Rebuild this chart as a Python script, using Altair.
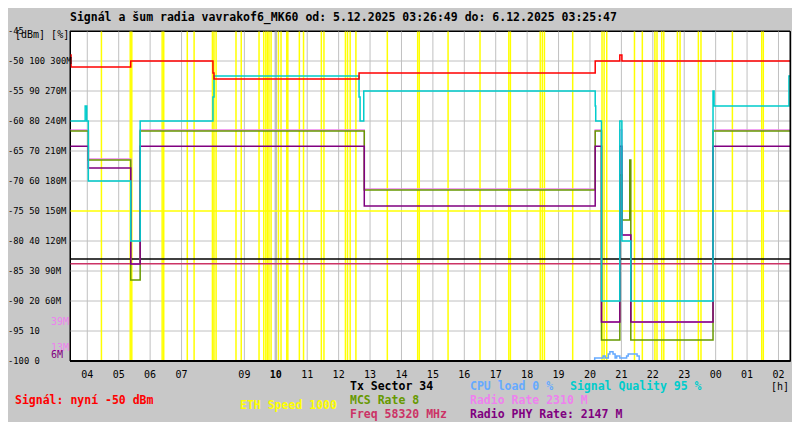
import altair as alt
import pandas as pd

FONT = "DejaVu Sans Mono"

def tmin(s):
    """'HH:MM' -> minutes from 5.12. 00:00 (times before 03:00 belong to 6.12.)"""
    h, m = map(int, s.split(":"))
    v = h * 60 + m
    if v < 180:
        v += 1440
    return v

T_START, T_END = "03:27", "02:22"

# ---------------- data ----------------
title_text = "Signál a šum radia vavrakof6_MK60 od: 5.12.2025 03:26:49 do: 6.12.2025 03:25:47"

# signal (dBm)
sig_t = ["03:27", "03:29", "05:23", "08:00", "08:02", "12:39", "20:10", "20:57", "21:01"]
sig_v = [-49, -51, -50, -52, -53, -52, -50, -49, -50]

# signal quality (%)
q_t = ["03:27", "03:56", "03:59", "04:02", "05:23", "05:41", "08:00", "08:02", "12:39", "12:41",
       "12:48", "20:10", "20:11", "20:22", "20:57", "21:01", "21:18", "23:55", "23:57", "02:20"]
q_v = [80, 85, 80, 60, 40, 80, 88, 95, 88, 80, 90, 85, 80, 20, 80, 40, 20, 90, 85, 95]

# MCS rate (in rate-axis units, M)
mcs_t = ["03:27", "04:02", "05:23", "05:41", "12:49", "20:10", "20:22", "20:57", "21:01", "21:16", "21:18", "23:55"]
mcs_v = [230, 201, 81, 230, 171, 230, 21, 186, 141, 201, 21, 230]

# radio rate (rate-axis units, M)
rr_t = ["03:27", "04:02", "05:23", "05:41", "12:49", "20:10", "20:22", "20:57", "21:01", "21:18", "23:55"]
rr_v = [231, 202, 97, 231, 172, 231, 39, 231, 126, 39, 231]

# radio PHY rate (rate-axis units, M)
phy_t = ["03:27", "04:02", "05:23", "05:41", "12:49", "20:10", "20:22", "20:57", "21:01", "21:18", "23:55"]
phy_v = [214.7, 193, 97, 214.7, 155, 214.7, 39, 214.7, 126, 39, 214.7]

# CPU load (%)
cpu_t = ["03:27", "20:09", "20:25", "20:29", "20:35", "20:38", "20:44", "20:48", "20:51", "20:57",
         "21:10", "21:13", "21:30", "21:34"]
cpu_v = [0, 1, 1.7, 1, 2.3, 3.1, 2.3, 1, 1.7, 1, 1.7, 2.3, 1.7, 0]

tx_sector_pct = 34          # Tx Sector 34 (on % scale)
freq_rate_units = 97.2      # Freq 58320 MHz level (rate-axis units)

# ETH speed events (yellow markers)
eth_t = ["04:27", "05:22", "05:25", "06:23", "06:26", "07:11", "07:24", "07:59", "08:02", "08:06",
         "08:44", "08:54", "09:28", "09:37", "09:41", "09:44", "09:47", "09:51", "10:05", "10:10",
         "10:21", "10:23", "10:45", "10:53", "11:27", "11:32", "12:13", "12:17", "12:22", "12:33",
         "13:33", "14:31", "14:34", "15:29", "16:30", "17:25", "17:28", "18:25", "18:29", "18:33",
         "19:27", "20:23", "20:27", "20:32", "21:25", "21:40", "22:04", "22:08", "22:17", "22:21",
         "22:47", "22:52", "23:27", "23:32", "00:32", "01:28", "01:31"]

grid_hours = ["04", "05", "06", "07", "08", "09", "10", "11", "12", "13", "14", "15", "16",
              "17", "18", "19", "20", "21", "22", "23", "00", "01", "02"]
x_tick_labels = ["04", "05", "06", "07", "09", "10", "11", "12", "13", "14", "15", "16",
                 "17", "18", "19", "20", "21", "22", "23", "00", "01", "02"]
x_bold_label = "10"

y_tick_vals = [-45, -50, -55, -60, -65, -70, -75, -80, -85, -90, -95, -100]
y_tick_labels = ["\u00a0-45", "-50 100 300M", "-55 90 270M", "-60 80 240M", "-65 70 210M",
                 "-70 60 180M", "-75 50 150M", "-80 40 120M", "-85 30 90M", "-90 20 60M",
                 "-95 10", "-100 0"]
grid_y = [-95, -90, -85, -80, -70, -65, -60, -55, -50]

ann_rates = [39, 13, 6]
ann_labels = ["39M", "13M", "6M"]

# ---------------- helpers ----------------
def pct(p):
    return -100 + p / 2.0

def rate(r):
    return -100 + r / 6.0

xs = alt.Scale(domain=[tmin(T_START), tmin(T_END)], nice=False, zero=False)
ys = alt.Scale(domain=[-100, -45], nice=False, zero=False)

def series_df(ts, vs, conv):
    t = [tmin(s) for s in ts] + [tmin(T_END)]
    v = [conv(x) for x in vs] + [conv(vs[-1])]
    return pd.DataFrame({"t": t, "v": v})

def step_line(ts, vs, conv, color, w=1.5):
    return alt.Chart(series_df(ts, vs, conv)).mark_line(
        interpolate="step-after", color=color, strokeWidth=w
    ).encode(x=alt.X("t:Q", scale=xs, axis=None), y=alt.Y("v:Q", scale=ys, axis=None))

def txt(s, x, y, color, size=11.5, weight="bold"):
    return alt.Chart(pd.DataFrame({"s": [s]})).mark_text(
        align="left", baseline="middle", font=FONT, fontSize=size, fontWeight=weight, color=color
    ).encode(text="s:N", x=alt.value(x), y=alt.value(y))

ident = lambda x: x

# ---------------- layers ----------------
grid_v = alt.Chart(pd.DataFrame({"t": [tmin(h + ":00") for h in grid_hours]})).mark_rule(
    color="#C0C0C0"
).encode(
    x=alt.X("t:Q", scale=xs, axis=None),
    strokeWidth=alt.condition("datum.t == 600", alt.value(2.5), alt.value(1)),
)

grid_h = alt.Chart(pd.DataFrame({"v": grid_y})).mark_rule(color="#C0C0C0", strokeWidth=1).encode(
    y=alt.Y("v:Q", scale=ys, axis=None)
)

eth = alt.Chart(pd.DataFrame({"t": [tmin(s) for s in eth_t]})).mark_rule(
    color="#FFFF00", strokeWidth=1.5
).encode(x=alt.X("t:Q", scale=xs, axis=None))

yel_h = alt.Chart(pd.DataFrame({"v": [-75]})).mark_rule(color="#FFFF00", strokeWidth=1.5).encode(
    y=alt.Y("v:Q", scale=ys, axis=None)
)

tx_line = alt.Chart(pd.DataFrame({"v": [pct(tx_sector_pct)]})).mark_rule(color="black", strokeWidth=1.5).encode(
    y=alt.Y("v:Q", scale=ys, axis=None)
)
freq_line = alt.Chart(pd.DataFrame({"v": [rate(freq_rate_units)]})).mark_rule(color="#CC3366", strokeWidth=1.5).encode(
    y=alt.Y("v:Q", scale=ys, axis=None)
)

cpu = step_line(cpu_t, cpu_v, pct, "#66AAFF")
violet = step_line(rr_t, rr_v, rate, "#EE82EE")
olive = step_line(mcs_t, mcs_v, rate, "#669900")
purple = step_line(phy_t, phy_v, rate, "#800080")
cyan = step_line(q_t, q_v, pct, "#00CCCC")
red = step_line(sig_t, sig_v, ident, "#FF0000")

frame_h = alt.Chart(pd.DataFrame({"v": [-100]})).mark_rule(color="black", strokeWidth=2).encode(
    y=alt.Y("v:Q", scale=ys, axis=None)
)
frame_top = alt.Chart(pd.DataFrame({"v": [-45]})).mark_rule(color="black", strokeWidth=1).encode(
    y=alt.Y("v:Q", scale=ys, axis=None)
)
frame_v = alt.Chart(pd.DataFrame({"t": [tmin(T_START), tmin(T_END)]})).mark_rule(color="black", strokeWidth=1).encode(
    x=alt.X("t:Q", scale=xs, axis=None)
)

# x tick labels (hours)
xlab_df = pd.DataFrame({"t": [tmin(h + ":00") for h in x_tick_labels], "s": x_tick_labels})
xlabels = alt.Chart(xlab_df).transform_filter(
    alt.datum.s != x_bold_label
).mark_text(
    align="center", baseline="middle", font=FONT, fontSize=10, color="black"
).encode(x=alt.X("t:Q", scale=xs, axis=None), y=alt.value(344), text="s:N")
xlabel_bold = alt.Chart(xlab_df).transform_filter(
    alt.datum.s == x_bold_label
).mark_text(
    align="center", baseline="middle", font=FONT, fontSize=10, fontWeight="bold", color="black"
).encode(x=alt.X("t:Q", scale=xs, axis=None), y=alt.value(344), text="s:N")

ylabels = alt.Chart(pd.DataFrame({"v": y_tick_vals, "s": y_tick_labels})).mark_text(
    align="left", baseline="middle", font=FONT, fontSize=8.8, color="black"
).encode(x=alt.value(-62), y=alt.Y("v:Q", scale=ys, axis=None), text="s:N")

ann_colors = ["#EE82EE", "#EE82EE", "#800080"]
ann_layers = [
    alt.Chart(pd.DataFrame({"v": [rate(r)], "s": [s]})).mark_text(
        align="left", baseline="middle", font=FONT, fontSize=10, color=c
    ).encode(x=alt.value(-19), y=alt.Y("v:Q", scale=ys, axis=None), text="s:N")
    for r, s, c in zip(ann_rates, ann_labels, ann_colors)
]

texts = [
    txt(title_text, 0, -13, "black"),
    txt("[dBm] [%]", -55, 4, "black", size=10, weight="normal"),
    txt("Signál: nyní -50 dBm", -55, 370, "#FF0000"),
    txt("ETH Speed 1000", 170, 375, "#FFFF00"),
    txt("Tx Sector 34", 280, 356, "black"),
    txt("MCS Rate 8", 280, 370, "#669900"),
    txt("Freq 58320 MHz", 280, 384, "#CC3366"),
    txt("CPU load 0 %", 400, 356, "#66AAFF"),
    txt("Signal Quality 95 %", 500, 356, "#00CCCC"),
    txt("Radio Rate 2310 M", 400, 370, "#EE82EE"),
    txt("Radio PHY Rate: 2147 M", 400, 384, "#800080"),
    txt("[h]", 701, 356, "black", size=10, weight="normal"),
]

chart = alt.layer(
    grid_v, grid_h, eth, yel_h, tx_line, freq_line, cpu, violet, olive, purple, cyan, red,
    frame_h, frame_top, frame_v, xlabels, xlabel_bold, ylabels, *ann_layers, *texts
).properties(
    width=720, height=330,
    padding={"left": 62, "top": 23, "right": 2, "bottom": 61},
    autosize=alt.AutoSizeParams(type="none"),
    background="#C8C8C8",
).configure_view(stroke="black", strokeWidth=1, fill="white")

chart.save("out.html", embed_options={"renderer": "svg", "actions": False})
